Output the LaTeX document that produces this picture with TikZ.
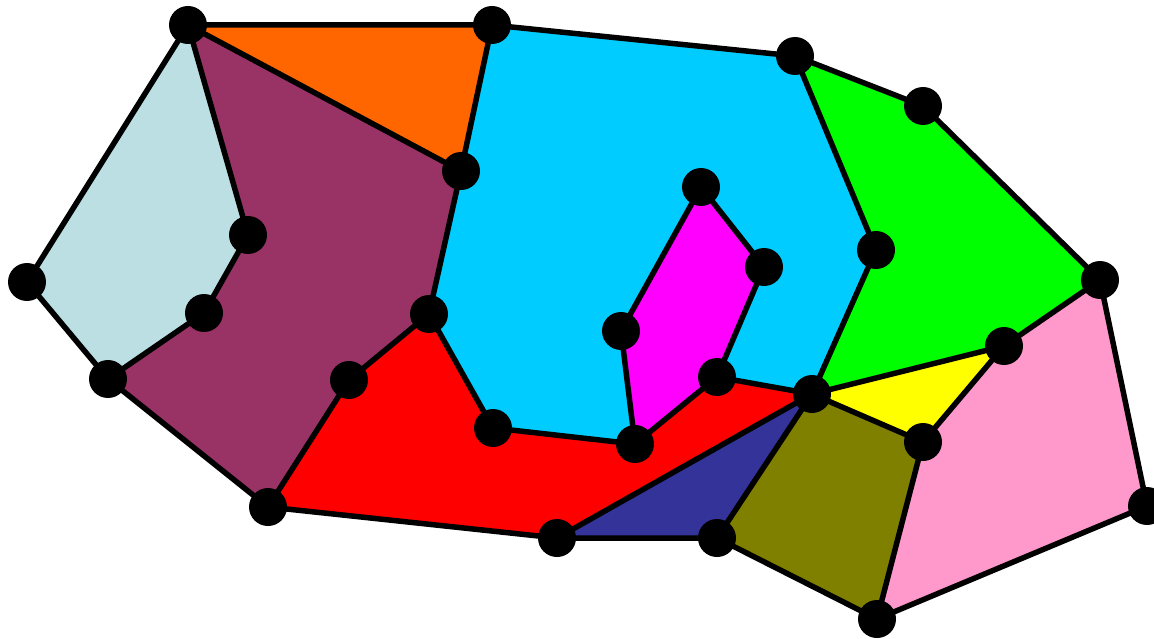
\documentclass[tikz,border=0pt]{standalone}
\begin{document}
\begin{tikzpicture}[x=1pt,y=-1pt,
  edge/.style={draw=black,line width=5.5pt,line join=round},
  dot/.style={circle,fill=black,inner sep=0pt,minimum size=38pt}]
\definecolor{lblue}{RGB}{187,223,227}
\definecolor{maroon}{RGB}{153,51,102}
\definecolor{orng}{RGB}{255,102,0}
\definecolor{cyanb}{RGB}{0,204,255}
\definecolor{grn}{RGB}{0,255,0}
\definecolor{pnk}{RGB}{255,153,204}
\definecolor{yel}{RGB}{255,255,0}
\definecolor{olv}{RGB}{128,128,0}
\definecolor{navy}{RGB}{51,51,153}
\definecolor{rd}{RGB}{255,0,0}
\definecolor{mag}{RGB}{255,0,255}
\useasboundingbox (0,0) rectangle (1154,639);
\coordinate (A) at (188,25);
\coordinate (B) at (492,25);
\coordinate (C) at (795,56);
\coordinate (D) at (923,106);
\coordinate (E) at (1100,280);
\coordinate (F) at (1147,506);
\coordinate (G) at (877,619);
\coordinate (H) at (717,538);
\coordinate (I) at (557,538);
\coordinate (J) at (268,507);
\coordinate (K) at (108,379);
\coordinate (L) at (27,282);
\coordinate (M) at (248,235);
\coordinate (N) at (204,313);
\coordinate (O) at (461,171);
\coordinate (P) at (429,314);
\coordinate (Q) at (349,380);
\coordinate (R) at (493,428);
\coordinate (S) at (635,444);
\coordinate (T) at (717,377);
\coordinate (U) at (764,267);
\coordinate (V) at (701,187);
\coordinate (W) at (621,331);
\coordinate (X) at (876,250);
\coordinate (Y) at (812,394);
\coordinate (Z) at (1004,346);
\coordinate (AA) at (923,442);
% faces
\fill[lblue] (A) -- (M) -- (N) -- (K) -- (L) -- cycle;
\fill[maroon] (A) -- (O) -- (P) -- (Q) -- (J) -- (K) -- (N) -- (M) -- cycle;
\fill[orng] (A) -- (B) -- (O) -- cycle;
\fill[cyanb] (B) -- (C) -- (X) -- (Y) -- (T) -- (S) -- (R) -- (P) -- (O) -- cycle;
\fill[mag] (V) -- (U) -- (T) -- (S) -- (W) -- cycle;
\fill[rd] (P) -- (R) -- (S) -- (T) -- (Y) -- (I) -- (J) -- (Q) -- cycle;
\fill[navy] (Y) -- (H) -- (I) -- cycle;
\fill[olv] (Y) -- (AA) -- (G) -- (H) -- cycle;
\fill[pnk] (E) -- (F) -- (G) -- (AA) -- (Z) -- cycle;
\fill[yel] (Y) -- (Z) -- (AA) -- cycle;
\fill[grn] (C) -- (D) -- (E) -- (Z) -- (Y) -- (X) -- cycle;
% edges
\draw[edge] (A) -- (B) -- (C) -- (D) -- (E) -- (F) -- (G) -- (H) -- (I) -- (J) -- (K) -- (L) -- cycle;
\draw[edge] (A) -- (M) -- (N) -- (K);
\draw[edge] (B) -- (O) -- (A);
\draw[edge] (O) -- (P) -- (Q) -- (J);
\draw[edge] (P) -- (R) -- (S) -- (T) -- (Y);
\draw[edge] (C) -- (X) -- (Y);
\draw[edge] (V) -- (U) -- (T);
\draw[edge] (V) -- (W) -- (S);
\draw[edge] (Y) -- (I);
\draw[edge] (Y) -- (H);
\draw[edge] (Y) -- (Z) -- (E);
\draw[edge] (Y) -- (AA) -- (Z);
\draw[edge] (AA) -- (G);
% dots
\foreach \v in {A,B,C,D,E,F,G,H,I,J,K,L,M,N,O,P,Q,R,S,T,U,V,W,X,Y,Z,AA}
  \node[dot] (d\v) at (\v) {};
\end{tikzpicture}
\end{document}
